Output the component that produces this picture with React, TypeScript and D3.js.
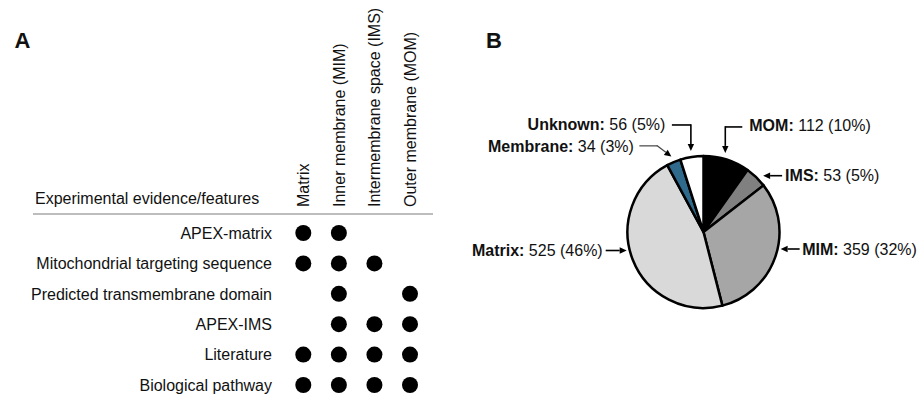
import React from "react";
import * as d3 from "d3";

// ---------- Panel A data ----------
const features = [
  "APEX-matrix",
  "Mitochondrial targeting sequence",
  "Predicted transmembrane domain",
  "APEX-IMS",
  "Literature",
  "Biological pathway",
];
const compartments = [
  "Matrix",
  "Inner membrane (MIM)",
  "Intermembrane space (IMS)",
  "Outer membrane (MOM)",
];
// presence (1) per feature row, per compartment column
const apexMatrix = [1, 1, 0, 0];
const mtsRow = [1, 1, 1, 0];
const tmRow = [0, 1, 0, 1];
const apexIms = [0, 1, 1, 1];
const literatureRow = [1, 1, 1, 1];
const pathwayRow = [1, 1, 1, 1];
const evidenceRows = [apexMatrix, mtsRow, tmRow, apexIms, literatureRow, pathwayRow];

// ---------- Panel B data ----------
const pieCategories = ["MOM", "IMS", "MIM", "Matrix", "Membrane", "Unknown"];
const pieValues = [112, 53, 359, 525, 34, 56];
const piePercents = ["10%", "5%", "32%", "46%", "3%", "5%"];

// styles
const pieColors = ["#000000", "#808080", "#a6a6a6", "#d9d9d9", "#2f6a8d", "#ffffff"];
const FONT = "'Liberation Sans', Arial, Helvetica, sans-serif";

function Arrow({ x1, y1, x2, y2, color = "#000", w = 1.6 }: any) {
  // arrow from (x1,y1) to tip (x2,y2)
  const ang = Math.atan2(y2 - y1, x2 - x1);
  const L = 7, W = 3.2;
  const bx = x2 - L * Math.cos(ang), by = y2 - L * Math.sin(ang);
  const px = -Math.sin(ang) * W, py = Math.cos(ang) * W;
  return (
    <g>
      <line x1={x1} y1={y1} x2={bx} y2={by} stroke={color} strokeWidth={w} />
      <path d={`M${x2},${y2}L${bx + px},${by + py}L${bx - px},${by - py}Z`} fill="#000" />
    </g>
  );
}

export default function App() {
  // Panel A scales
  const xCol = d3.scalePoint<string>().domain(compartments).range([303.3, 410]);
  const yRow = d3.scalePoint<string>().domain(features).range([233, 385]);

  // Panel B pie
  const cx = 703.5, cy = 232, r = 76;
  const pie = d3.pie<number>().sort(null).value((d) => d)(pieValues);
  const arc = d3.arc<any>().innerRadius(0).outerRadius(r);
  const mid = (i: number) => (pie[i].startAngle + pie[i].endAngle) / 2;
  const onCircle = (a: number, rr: number) => [cx + rr * Math.sin(a), cy - rr * Math.cos(a)];

  const label = (i: number, x: number, y: number, anchor: string) => (
    <text x={x} y={y} textAnchor={anchor} fontSize={16} fontFamily={FONT} fill="#111">
      <tspan fontWeight="bold">{pieCategories[i]}:</tspan>
      {` ${pieValues[i]} (${piePercents[i]})`}
    </text>
  );

  // label geometry derived from slice angles
  const [momX, momY] = onCircle(mid(0) - 0.04, r + 6);
  const [unkX, unkY] = onCircle(mid(5), r + 6);
  const [memX, memY] = onCircle(mid(4), r + 6);
  const [imsX0, imsY0] = onCircle(mid(1) + 0.05, r + 6);
  const matY = cy + 18.5;
  const matTipX = cx - Math.sqrt((r + 3) ** 2 - (matY - cy) ** 2);
  const mimY = cy + 17;
  const mimTipX = cx + Math.sqrt((r + 3) ** 2 - (mimY - cy) ** 2);

  return (
    <svg
      width={918}
      height={402}
      style={{ position: "absolute", left: 0, top: 0, background: "#fff" }}
      fontFamily={FONT}
    >
      <rect width={918} height={402} fill="#fff" />
      {/* Panel A */}
      <text x={14.5} y={47.5} fontSize={22} fontWeight="bold" fill="#111">A</text>
      <text x={35} y={204} fontSize={16} fill="#111">Experimental evidence/features</text>
      {compartments.map((c) => (
        <text
          key={c}
          transform={`translate(${(xCol(c) as number) + 5.8},207) rotate(-90)`}
          fontSize={16}
          fill="#111"
        >
          {c}
        </text>
      ))}
      <line x1={33} x2={433} y1={214} y2={214} stroke="#bdbdbd" strokeWidth={2} />
      {features.map((f, i) => (
        <g key={f}>
          <text
            x={272}
            y={(yRow(f) as number) + 5.7}
            fontSize={16}
            textAnchor="end"
            fill="#111"
          >
            {f}
          </text>
          {evidenceRows[i].map((v, j) =>
            v ? (
              <circle key={j} cx={xCol(compartments[j])} cy={yRow(f)} r={8} fill="#000" />
            ) : null
          )}
        </g>
      ))}

      {/* Panel B */}
      <text x={486} y={48} fontSize={22} fontWeight="bold" fill="#111">B</text>
      <g transform={`translate(${cx},${cy})`}>
        {pie.map((p, i) => (
          <path
            key={i}
            d={arc(p) as string}
            fill={pieColors[i]}
            stroke="#000"
            strokeWidth={2.5}
            strokeLinejoin="round"
          />
        ))}
      </g>

      {/* MOM */}
      <polyline
        points={`${momX + 17},${momY - 26} ${momX},${momY - 26}`}
        fill="none"
        stroke="#000"
        strokeWidth={1.6}
      />
      <Arrow x1={momX} y1={momY - 26.8} x2={momX} y2={momY} />
      {label(0, momX + 24, momY - 21.5, "start")}

      {/* IMS */}
      <Arrow x1={imsX0 + 19} y1={imsY0} x2={imsX0} y2={imsY0} />
      {label(1, imsX0 + 22, imsY0 + 5.7, "start")}

      {/* MIM */}
      <Arrow x1={mimTipX + 19} y1={mimY} x2={mimTipX} y2={mimY} />
      {label(2, mimTipX + 21.5, mimY + 5.5, "start")}

      {/* Matrix */}
      <Arrow x1={matTipX - 21} y1={matY} x2={matTipX} y2={matY} />
      {label(3, matTipX - 24, matY + 5.5, "end")}

      {/* Membrane */}
      <polyline
        points={`${memX - 32},${memY - 10.7} ${memX - 14},${memY - 10.7}`}
        fill="none"
        stroke="#444"
        strokeWidth={1.2}
      />
      <Arrow x1={memX - 14.5} y1={memY - 11} x2={memX} y2={memY} color="#444" w={1.2} />
      {label(4, memX - 37.5, memY - 5, "end")}

      {/* Unknown */}
      <polyline
        points={`${unkX - 19},${unkY - 26} ${unkX},${unkY - 26}`}
        fill="none"
        stroke="#000"
        strokeWidth={1.6}
      />
      <Arrow x1={unkX} y1={unkY - 26.8} x2={unkX} y2={unkY} />
      {label(5, unkX - 25.5, unkY - 20.5, "end")}
    </svg>
  );
}
